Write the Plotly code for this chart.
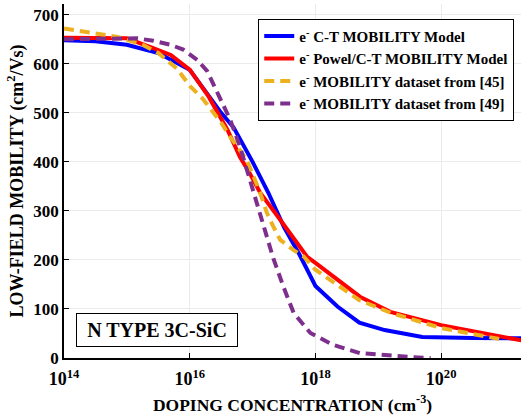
import plotly.graph_objects as go

# Doping concentration (cm^-3) and mobility (cm^2/Vs)
ct_N = [1e14, 3.16e14, 1e15, 3.16e15, 1e16, 3.16e16, 5.0e16, 1e17, 1.78e17, 3.16e17,
        5.62e17, 1e18, 2.24e18, 5.0e18, 1.26e19, 5.0e19, 3.16e20, 3e21]
ct_mu = [648, 646, 639, 622, 588, 500, 470, 400, 337, 267,
         210, 147, 105, 72, 57, 43, 41, 40]

pw_N = [1e14, 1e15, 2.5e15, 5e15, 1e16, 2e16, 4e16, 6.3e16, 8.9e16, 1.32e17,
        2.75e17, 5.1e17, 7.4e17, 1e18, 5.1e18, 1.55e19, 1e20, 3e21]
pw_mu = [653, 652, 633, 618, 588, 533, 465, 410, 378, 337,
         282, 235, 206, 194, 125, 94, 67, 31]

d45_N = [1e14, 3.16e14, 7.1e14, 1.78e15, 3.16e15, 6.3e15, 1e16, 1.58e16, 3.16e16, 4.4e16,
         8.1e16, 1.32e17, 1.7e17, 2.14e17, 2.75e17, 4.5e17, 6.5e17, 1e18, 5e18, 1.58e19,
         1e20, 1e21]
d45_mu = [672, 663, 655, 639, 622, 590, 555, 530, 480, 451,
          404, 337, 295, 268, 241, 220, 207, 180, 118, 92,
          61, 37]

d49_N = [1e14, 3.16e14, 1.45e15, 2.63e15, 4.9e15, 7.9e15, 1.32e16, 1.9e16, 2.34e16, 3.4e16,
         4.4e16, 6.3e16, 8.1e16, 1.02e17, 1.32e17, 1.7e17, 2.14e17, 3.1e17, 4.5e17, 8.3e17,
         1.9e18, 5.1e18, 1.2e19, 3.16e19, 6.8e19]
d49_mu = [650, 651, 652, 647, 639, 629, 608, 585, 561, 515,
          486, 431, 384, 337, 288, 245, 203, 145, 92, 51,
          27, 10, 6, 2, 0]

x_tickvals = [1e14, 1e16, 1e18, 1e20]
x_ticktext = ["10<sup>14</sup>", "10<sup>16</sup>", "10<sup>18</sup>", "10<sup>20</sup>"]
y_tickvals = [0, 100, 200, 300, 400, 500, 600, 700]

FONT = "Liberation Serif"

fig = go.Figure()
fig.add_trace(go.Scatter(x=ct_N, y=ct_mu, mode="lines", name="e<sup>-</sup> C-T MOBILITY Model",
                         line=dict(color="#0000FF", width=4)))
fig.add_trace(go.Scatter(x=pw_N, y=pw_mu, mode="lines", name="e<sup>-</sup> Powel/C-T MOBILITY Model",
                         line=dict(color="#FF0000", width=4)))
fig.add_trace(go.Scatter(x=d45_N, y=d45_mu, mode="lines", name="e<sup>-</sup> MOBILITY dataset from [45]",
                         line=dict(color="#EDB120", width=4, dash="10px,6px")))
fig.add_trace(go.Scatter(x=d49_N, y=d49_mu, mode="lines", name="e<sup>-</sup> MOBILITY dataset from [49]",
                         line=dict(color="#7E2F8E", width=4, dash="10px,6px")))

fig.update_layout(
    width=521, height=419, autosize=False,
    margin=dict(l=64, r=0, t=4, b=61),
    paper_bgcolor="white", plot_bgcolor="white",
    font=dict(family=FONT, color="black", size=16, weight="bold"),
    showlegend=True,
    legend=dict(x=0.425, y=0.958, xanchor="left", yanchor="top",
                bgcolor="white", bordercolor="black", borderwidth=1,
                font=dict(family=FONT, size=15, weight="bold", color="black"),
                tracegroupgap=0),
    xaxis=dict(type="log", range=[14, 21.27], tickvals=x_tickvals, ticktext=x_ticktext,
               showgrid=True, gridcolor="#ebebeb", gridwidth=1,
               showline=True, linecolor="black", linewidth=1.5,
               ticks="inside", ticklen=5, tickcolor="black", tickwidth=1,
               ticklabelstandoff=4,
               tickfont=dict(family=FONT, size=18, weight="bold"),
               title=dict(text="DOPING CONCENTRATION (cm<sup>-3</sup>)",
                          font=dict(family=FONT, size=17.5, weight="bold"), standoff=10),
               zeroline=False),
    yaxis=dict(range=[0, 722], tickvals=y_tickvals,
               showgrid=True, gridcolor="#ebebeb", gridwidth=1,
               showline=True, linecolor="black", linewidth=1.5,
               ticks="inside", ticklen=5, tickcolor="black", tickwidth=1,
               tickfont=dict(family=FONT, size=17, weight="bold"),
               title=dict(text="LOW-FIELD MOBILITY (cm<sup>2</sup>/Vs)",
                          font=dict(family=FONT, size=18, weight="bold"), standoff=5),
               zeroline=False),
    annotations=[dict(xref="paper", yref="paper", x=0.2035, y=0.0791,
                      xanchor="center", yanchor="middle", showarrow=False,
                      text="N TYPE 3C-SiC", width=156, height=28, borderpad=2,
                      bordercolor="black", borderwidth=1, bgcolor="white",
                      font=dict(family=FONT, size=20, weight="bold", color="black"))],
)

fig.write_html("out.html")
